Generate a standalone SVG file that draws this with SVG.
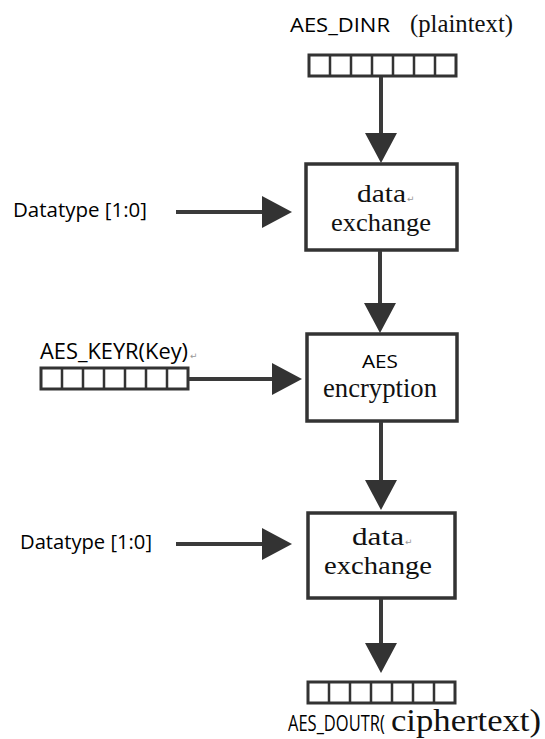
<svg xmlns="http://www.w3.org/2000/svg" width="545" height="739" viewBox="0 0 545 739">
<defs>
<style>
.box{fill:#fff;stroke:#333;stroke-width:3.5}
.reg{fill:#fff;stroke:#333;stroke-width:3}
.cell{stroke:#333;stroke-width:2.5}
.conn{stroke:#3a3a3a;stroke-width:4;fill:none}
.sans{font-family:"Open Sans","Liberation Sans",sans-serif;fill:#000;font-weight:500}
.serif{font-family:"Liberation Serif","Times New Roman",serif;fill:#111;font-weight:400}
.mark{font-family:"DejaVu Sans",sans-serif;fill:#999;font-size:9px}
</style>
<marker id="ah" markerUnits="userSpaceOnUse" markerWidth="30" markerHeight="32" refX="20" refY="16" orient="auto">
<path d="M0,0 L30,16 L0,32 Z" fill="#333"/>
</marker>
</defs>
<rect width="545" height="739" fill="#fff"/>

<g id="reg-dinr">
<rect class="reg" x="309" y="55" width="147" height="21"/>
<path class="cell" d="M330,55V76M351,55V76M372,55V76M393,55V76M414,55V76M435,55V76"/>
<text class="sans" x="290" y="32" font-size="20" textLength="100" lengthAdjust="spacingAndGlyphs">AES_DINR</text>
<text class="serif" x="410" y="32" font-size="25" textLength="103" lengthAdjust="spacingAndGlyphs">(plaintext)</text>
</g>

<g id="box-exchange1">
<rect class="box" x="306" y="164" width="151" height="86"/>
<text class="serif" x="357" y="202" font-size="26" textLength="49" lengthAdjust="spacingAndGlyphs">data</text>
<text class="mark" x="407" y="202">↵</text>
<text class="serif" x="381" y="231" font-size="26" text-anchor="middle" textLength="100" lengthAdjust="spacingAndGlyphs">exchange</text>
</g>

<g id="dt1">
<text class="sans" x="13" y="217" font-size="20" textLength="134" lengthAdjust="spacingAndGlyphs">Datatype [1:0]</text>
</g>

<g id="reg-keyr">
<text class="sans" x="40" y="359" font-size="21" textLength="148" lengthAdjust="spacingAndGlyphs">AES_KEYR(Key)</text>
<text class="mark" x="190" y="359">↵</text>
<rect class="reg" x="41" y="368" width="147" height="21"/>
<path class="cell" d="M62,368V389M83,368V389M104,368V389M125,368V389M146,368V389M167,368V389"/>
</g>

<g id="box-aes">
<rect class="box" x="307" y="334" width="150" height="87"/>
<text class="sans" x="380" y="368" font-size="18" text-anchor="middle" textLength="36" lengthAdjust="spacingAndGlyphs">AES</text>
<text class="serif" x="380" y="397" font-size="27" text-anchor="middle" textLength="114" lengthAdjust="spacingAndGlyphs">encryption</text>
</g>

<g id="dt2">
<text class="sans" x="20" y="549" font-size="20" textLength="132" lengthAdjust="spacingAndGlyphs">Datatype [1:0]</text>
</g>

<g id="box-exchange2">
<rect class="box" x="308" y="513" width="147" height="85"/>
<text class="serif" x="352" y="545" font-size="26" textLength="52" lengthAdjust="spacingAndGlyphs">data</text>
<text class="mark" x="405" y="545">↵</text>
<text class="serif" x="378" y="574" font-size="26" text-anchor="middle" textLength="108" lengthAdjust="spacingAndGlyphs">exchange</text>
</g>

<g id="reg-doutr">
<rect class="reg" x="308" y="682" width="147" height="21"/>
<path class="cell" d="M329,682V703M350,682V703M371,682V703M392,682V703M413,682V703M434,682V703"/>
<text class="sans" transform="matrix(0.75,0,0,1,288,731)" x="0" y="0" font-size="22">AES_DOUTR(</text>
<text class="serif" x="391" y="731" font-size="32" textLength="150" lengthAdjust="spacingAndGlyphs">ciphertext)</text>
</g>

<g id="connectors">
<line class="conn" x1="381" y1="77" x2="381" y2="153" marker-end="url(#ah)"/>
<line class="conn" x1="176" y1="212" x2="282" y2="212" marker-end="url(#ah)"/>
<line class="conn" x1="380" y1="251" x2="380" y2="323" marker-end="url(#ah)"/>
<line class="conn" x1="189" y1="379" x2="292" y2="379" marker-end="url(#ah)"/>
<line class="conn" x1="381" y1="422" x2="381" y2="500" marker-end="url(#ah)"/>
<line class="conn" x1="176" y1="544" x2="282" y2="544" marker-end="url(#ah)"/>
<line class="conn" x1="381" y1="599" x2="381" y2="663" marker-end="url(#ah)"/>
</g>
</svg>
